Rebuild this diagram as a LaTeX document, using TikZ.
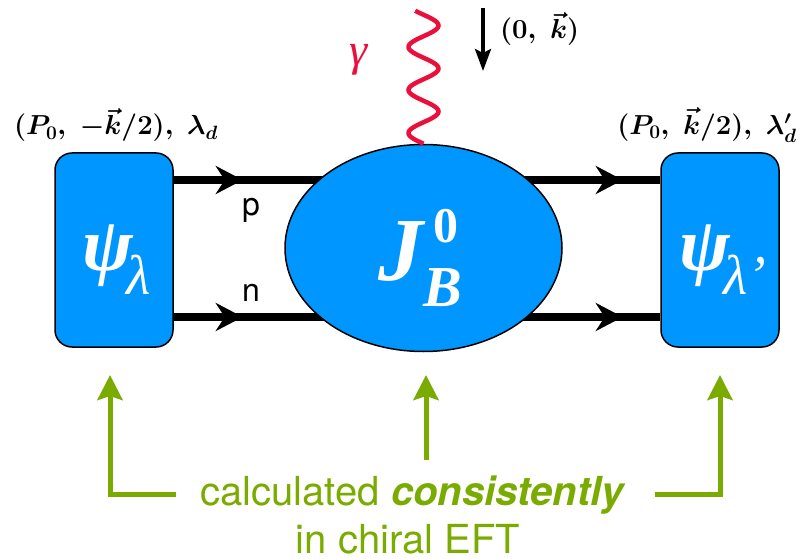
\RequirePackage{fix-cm}
\documentclass[tikz,border=0pt]{standalone}
\usepackage[no-math]{fontspec}
\newfontfamily\tms{Liberation Serif}
\newfontfamily\hel{TeX Gyre Heros}
\usetikzlibrary{shapes.geometric,arrows.meta,decorations.markings,calc}
\definecolor{wfblue}{RGB}{0,150,255}
\definecolor{eftgreen}{RGB}{122,171,0}
\definecolor{photred}{RGB}{235,16,60}

\begin{document}
\begin{tikzpicture}[x=1pt,y=-1pt,
  wfbox/.style={draw=black,line width=1.5pt,fill=wfblue,rounded corners=17pt,
    minimum width=118pt,minimum height=194pt,inner sep=0pt},
  kernel/.style={ellipse,draw=black,line width=1.5pt,fill=wfblue,
    minimum width=277pt,minimum height=207pt,inner sep=0pt},
  wftext/.style={text=white,inner sep=0pt},
  nucleon/.style={line width=8pt,postaction={decorate},
    decoration={markings,
      mark=at position 69pt with {\arrow{Stealth[length=27pt,width=28pt,inset=9pt]}},
      mark=at position 449pt with {\arrow{Stealth[length=27pt,width=28pt,inset=9pt]}}}},
  photon/.style={draw=photred,line width=4.5pt},
  momlabel/.style={inner sep=0pt,font=\fontsize{27.5}{32}\selectfont\boldmath},
  calcarrow/.style={draw=eftgreen,line width=5pt,-{Stealth[length=25pt,width=25pt,inset=4pt]}},
  calctext/.style={inner sep=0pt,text=eftgreen,font=\hel\fontsize{40}{44}\selectfont}
]
\useasboundingbox (0,0) rectangle (809,559);

% wave functions
\node[wfbox,label={[wftext,xshift=2.5pt,yshift=-10pt]center:{\tms\fontsize{76}{76}\selectfont\bfseries\itshape
  ψ\kern-7pt\raisebox{-24pt}{\mdseries\fontsize{56}{56}\selectfont λ}}}] (psiL) at (114,250) {};
\node[wfbox,label={[wftext,xshift=3pt,yshift=-10pt]center:{\tms\fontsize{76}{76}\selectfont\bfseries\itshape
  ψ\kern-7pt\raisebox{-24pt}{\mdseries\fontsize{56}{56}\selectfont λ’}}}] (psiR) at (720,250) {};

% nucleon lines
\draw[nucleon] ([yshift=70pt]psiL.east) -- ([yshift=70pt]psiR.west);
\draw[nucleon] ([yshift=-67pt]psiL.east) -- ([yshift=-67pt]psiR.west);
\node[font=\hel\fontsize{32}{36}\selectfont] (pl) at (251,210) {p};
\node[font=\hel\fontsize{32}{36}\selectfont] (nl) at (251,293) {n};

% current
\node[kernel,label={[wftext,xshift=-3pt,yshift=-10pt]center:{\tms\bfseries\itshape\fontsize{90}{90}\selectfont
  J\rlap{\kern10pt\raisebox{38pt}{\upshape\fontsize{50}{50}\selectfont 0}}\raisebox{-26pt}{\fontsize{58}{58}\selectfont B}}}] (J) at (423.5,248) {};

% photon
\draw[photon,shift={(J.north)}] plot[domain=0:133,samples=120,smooth] ({-15*sin(8.372*\x)},{-\x});
\node[text=photred,inner sep=0pt,font=\tms\itshape\fontsize{46}{46}\selectfont] (gam) at (359,60) {γ};

\coordinate (kt) at (483,8);
\coordinate (kb) at (483,71);
\draw[line width=3.5pt,-{Stealth[length=22pt,width=16pt,inset=4pt]}] (kt) -- (kb);
\node[momlabel,anchor=west] (kl) at (500,29) {$(0,\ \vec{k})$};

\node[momlabel] (ml) at (116,125) {$(P_0,\ -\vec{k}/2),\ \lambda_d$};
\node[momlabel] (mr) at (707,125) {$(P_0,\ \vec{k}/2),\ \lambda'_d$};

% chiral EFT
\node[calctext,anchor=base] (calc) at (412,505) {calculated {\bfseries\itshape consistently}};
\node[calctext,anchor=base] (eft) at (408,553) {in chiral EFT};
\coordinate (aL) at (110,375);
\coordinate (aM) at (426,375);
\coordinate (aR) at (720,375);
\draw[calcarrow] ([xshift=-24pt]calc.west) -| (aL);
\draw[calcarrow] ($(calc.north -| aM)+(0,-15)$) -- (aM);
\draw[calcarrow] ([xshift=31pt]calc.east) -| (aR);
\end{tikzpicture}
\end{document}
